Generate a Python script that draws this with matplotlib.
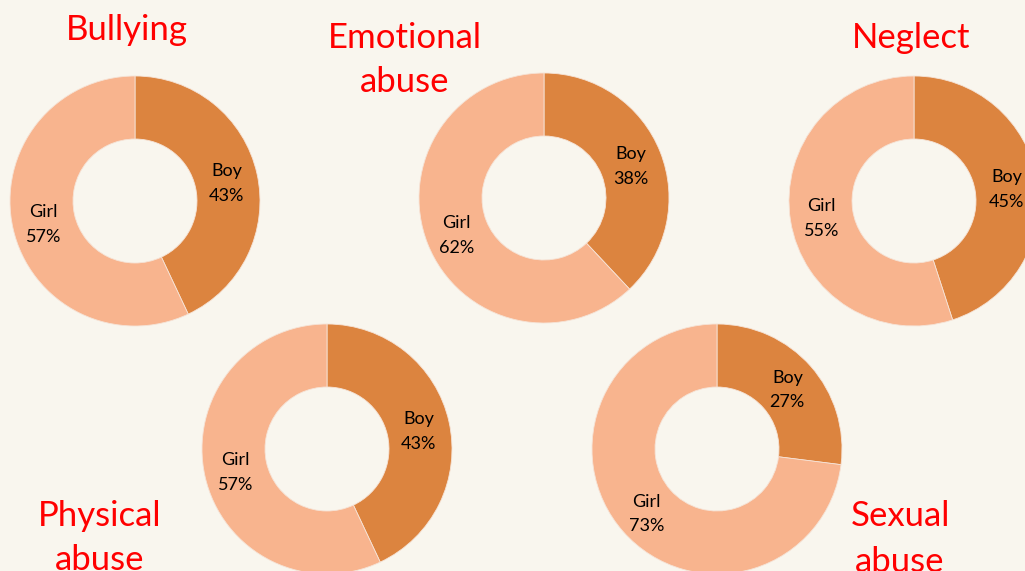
import matplotlib.pyplot as plt

# data
titles = ["Bullying", "Emotional\nabuse", "Neglect", "Physical\nabuse", "Sexual\nabuse"]
boy = [43, 38, 45, 43, 27]
girl = [57, 62, 55, 57, 73]
categories = ["Boy", "Girl"]

# layout (pixels, y measured from top)
centers = [(135, 201), (544, 198), (914, 201), (327, 449), (717, 449)]
title_pos = [(127, 30), (405, 60), (911, 38), (100, 538), (900, 539)]

W, H = 1025, 571
bg = "#F9F6EE"
colors = ["#DC843F", "#F8B48E"]

plt.rcParams['font.family'] = ['Lato', 'DejaVu Sans']

fig = plt.figure(figsize=(W / 100, H / 100), dpi=100, facecolor=bg)
ax = fig.add_axes([0, 0, 1, 1])
ax.set_facecolor(bg)
ax.set_xlim(0, W)
ax.set_ylim(0, H)
ax.set_aspect('equal')
ax.axis('off')

R = 125
for i in range(len(titles)):
    cx, cy = centers[i]
    labels = [f"{categories[0]}\n{boy[i]}%", f"{categories[1]}\n{girl[i]}%"]
    wedges, texts = ax.pie([boy[i], girl[i]], labels=labels, colors=colors,
                           center=(cx, H - cy), radius=R, startangle=90,
                           counterclock=False, labeldistance=0.75,
                           wedgeprops=dict(width=63, edgecolor="#F6E3D6", linewidth=0.6),
                           textprops=dict(fontsize=13, color="black"))
    for t in texts:
        t.set_ha('center')
        t.set_va('center')
        t.set_multialignment('center')
        t.set_linespacing(1.65)
        x, y = t.get_position()
        t.set_position((x, y - 3))

    tx, ty = title_pos[i]
    ax.text(tx, H - ty, titles[i], ha='center', va='center', color="#FF0000",
            fontsize=25, linespacing=1.5)

ax.set_xlim(0, W)
ax.set_ylim(0, H)

fig.savefig("out.png", dpi=100, facecolor=bg)
